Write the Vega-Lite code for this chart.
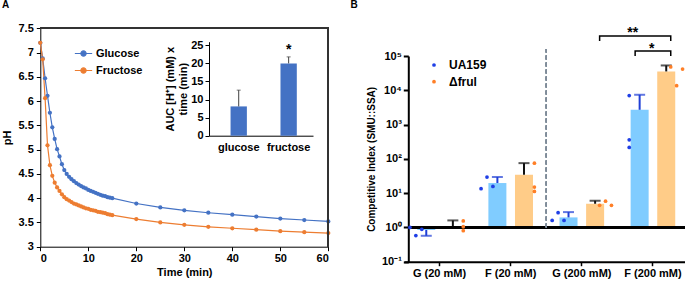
{
  "$schema": "https://vega.github.io/schema/vega-lite/v6.json",
  "width": 685,
  "height": 282,
  "autosize": "none",
  "padding": 0,
  "config": {
    "font": "Liberation Sans",
    "view": {"stroke": null},
    "axis": {"grid": false, "labelFontWeight": "bold", "titleFontWeight": "bold", "labelFontSize": 11, "titleFontSize": 11, "labelColor": "#000", "titleColor": "#000", "domainColor": "#000", "tickColor": "#000", "labelOverlap": false},
    "legend": {"labelFontWeight": "bold", "labelColor": "#000"}
  },
  "resolve": {"scale": {"x": "independent", "y": "independent", "color": "independent", "xOffset": "independent"}},
  "layer": [
    {
      "data": {"values": [
        {"s":"Glucose","t":0,"pH":7.2},{"s":"Glucose","t":0.5,"pH":6.88},{"s":"Glucose","t":1,"pH":6.47},{"s":"Glucose","t":1.5,"pH":6.11},{"s":"Glucose","t":2,"pH":5.76},{"s":"Glucose","t":2.5,"pH":5.46},{"s":"Glucose","t":3,"pH":5.22},{"s":"Glucose","t":3.5,"pH":5.01},{"s":"Glucose","t":4,"pH":4.86},{"s":"Glucose","t":4.5,"pH":4.7},{"s":"Glucose","t":5,"pH":4.58},{"s":"Glucose","t":5.5,"pH":4.5},{"s":"Glucose","t":6,"pH":4.44},{"s":"Glucose","t":6.5,"pH":4.39},{"s":"Glucose","t":7,"pH":4.35},{"s":"Glucose","t":7.5,"pH":4.31},{"s":"Glucose","t":8,"pH":4.28},{"s":"Glucose","t":8.5,"pH":4.25},{"s":"Glucose","t":9,"pH":4.22},{"s":"Glucose","t":9.5,"pH":4.2},{"s":"Glucose","t":10,"pH":4.17},{"s":"Glucose","t":10.5,"pH":4.15},{"s":"Glucose","t":11,"pH":4.13},{"s":"Glucose","t":11.5,"pH":4.11},{"s":"Glucose","t":12,"pH":4.09},{"s":"Glucose","t":12.5,"pH":4.07},{"s":"Glucose","t":13,"pH":4.05},{"s":"Glucose","t":13.5,"pH":4.04},{"s":"Glucose","t":14,"pH":4.02},{"s":"Glucose","t":14.5,"pH":4.01},{"s":"Glucose","t":15,"pH":4.0},{"s":"Glucose","t":20,"pH":3.89},{"s":"Glucose","t":25,"pH":3.81},{"s":"Glucose","t":30,"pH":3.75},{"s":"Glucose","t":35,"pH":3.7},{"s":"Glucose","t":40,"pH":3.66},{"s":"Glucose","t":45,"pH":3.62},{"s":"Glucose","t":50,"pH":3.58},{"s":"Glucose","t":55,"pH":3.55},{"s":"Glucose","t":60,"pH":3.52},
        {"s":"Fructose","t":0,"pH":7.2},{"s":"Fructose","t":0.5,"pH":6.86},{"s":"Fructose","t":1,"pH":6.06},{"s":"Fructose","t":1.5,"pH":5.09},{"s":"Fructose","t":2,"pH":4.68},{"s":"Fructose","t":2.5,"pH":4.46},{"s":"Fructose","t":3,"pH":4.32},{"s":"Fructose","t":3.5,"pH":4.22},{"s":"Fructose","t":4,"pH":4.15},{"s":"Fructose","t":4.5,"pH":4.08},{"s":"Fructose","t":5,"pH":4.02},{"s":"Fructose","t":5.5,"pH":3.98},{"s":"Fructose","t":6,"pH":3.95},{"s":"Fructose","t":6.5,"pH":3.92},{"s":"Fructose","t":7,"pH":3.89},{"s":"Fructose","t":7.5,"pH":3.87},{"s":"Fructose","t":8,"pH":3.85},{"s":"Fructose","t":8.5,"pH":3.83},{"s":"Fructose","t":9,"pH":3.81},{"s":"Fructose","t":9.5,"pH":3.79},{"s":"Fructose","t":10,"pH":3.78},{"s":"Fructose","t":10.5,"pH":3.76},{"s":"Fructose","t":11,"pH":3.75},{"s":"Fructose","t":11.5,"pH":3.74},{"s":"Fructose","t":12,"pH":3.72},{"s":"Fructose","t":12.5,"pH":3.71},{"s":"Fructose","t":13,"pH":3.7},{"s":"Fructose","t":13.5,"pH":3.69},{"s":"Fructose","t":14,"pH":3.67},{"s":"Fructose","t":14.5,"pH":3.66},{"s":"Fructose","t":15,"pH":3.65},{"s":"Fructose","t":20,"pH":3.57},{"s":"Fructose","t":25,"pH":3.5},{"s":"Fructose","t":30,"pH":3.45},{"s":"Fructose","t":35,"pH":3.41},{"s":"Fructose","t":40,"pH":3.38},{"s":"Fructose","t":45,"pH":3.35},{"s":"Fructose","t":50,"pH":3.32},{"s":"Fructose","t":55,"pH":3.3},{"s":"Fructose","t":60,"pH":3.28}
      ]},
      "layer": [
        {
          "mark": {"type": "line", "strokeWidth": 1.2},
          "encoding": {
            "x": {"field": "t", "type": "quantitative", "scale": {"domain": [0, 60], "range": [40.3, 328.3]},
                  "axis": {"orient": "bottom", "offset": -35.3, "values": [0,10,20,30,40,50,60], "tickCount": 7, "title": "Time (min)", "tickSize": 4, "labelPadding": 2, "titlePadding": 3}},
            "y": {"field": "pH", "type": "quantitative", "scale": {"domain": [3, 7.5], "range": [246.7, 28.3], "zero": false, "nice": false},
                  "axis": {"orient": "left", "offset": -40.3, "values": [3,3.5,4,4.5,5,5.5,6,6.5,7,7.5], "tickCount": 10, "labelExpr": "format(datum.value, '~g')", "labelOverlap": false, "title": "pH", "tickSize": 4, "labelPadding": 3, "titlePadding": 6}},
            "color": {"field": "s", "type": "nominal", "scale": {"domain": ["Glucose", "Fructose"], "range": ["#4472C4", "#ED7D31"]},
                      "legend": {"orient": "none", "legendX": 74, "legendY": 44, "title": null, "symbolType": "M-1,0H1M-0.3,0A0.3,0.3,0,1,1,0.3,0A0.3,0.3,0,1,1,-0.3,0Z", "symbolSize": 300, "symbolStrokeWidth": 1.2, "labelFontSize": 11, "labelOffset": 3, "rowPadding": 2}}
          }
        },
        {
          "mark": {"type": "circle", "size": 18, "opacity": 1},
          "encoding": {
            "x": {"field": "t", "type": "quantitative"},
            "y": {"field": "pH", "type": "quantitative"},
            "color": {"field": "s", "type": "nominal"}
          }
        },
        {
          "mark": {"type": "rule", "color": "#333", "strokeWidth": 1},
          "encoding": {"x": {"datum": 0, "type": "quantitative"}, "x2": {"datum": 60}, "y": {"datum": 7.5, "type": "quantitative"}}
        },
        {
          "mark": {"type": "rule", "color": "#333", "strokeWidth": 1},
          "encoding": {"x": {"datum": 60, "type": "quantitative"}, "y": {"datum": 3, "type": "quantitative"}, "y2": {"datum": 7.5}}
        },
        {
          "data": {"values": [{"lab": "A", "t": -8, "pH": 7.91}, {"lab": "B", "t": 64.6, "pH": 7.91}]},
          "mark": {"type": "text", "align": "left", "baseline": "alphabetic", "fontWeight": "bold", "fontSize": 10, "color": "#000"},
          "encoding": {"x": {"field": "t", "type": "quantitative"}, "y": {"field": "pH", "type": "quantitative"}, "text": {"field": "lab"}}
        }
      ]
    },
    {
      "data": {"values": [
        {"sugar": "glucose", "auc": 8.1, "hi": 12.6},
        {"sugar": "fructose", "auc": 20.0, "hi": 21.8}
      ]},
      "layer": [
        {
          "mark": {"type": "bar", "color": "#4472C4"},
          "encoding": {
            "x": {"field": "sugar", "type": "nominal",
                  "scale": {"domain": ["glucose", "fructose"], "range": [209, 313], "paddingInner": 0.673, "paddingOuter": 0.378, "align": 0.571},
                  "axis": {"orient": "bottom", "offset": -146.3, "title": null, "ticks": false, "tickSize": 0, "labelAngle": 0, "labelPadding": 6, "labelFontSize": 11}},
            "y": {"field": "auc", "type": "quantitative", "scale": {"domain": [0, 25], "range": [135.7, 41.7]},
                  "axis": {"orient": "left", "offset": -209, "values": [0,5,10,15,20,25], "tickCount": 6, "title": ["AUC [H⁺] (mM) x", "time (min)"], "tickSize": 4, "labelPadding": 2, "titlePadding": 2, "titleLineHeight": 13}}
          }
        },
        {
          "mark": {"type": "rule", "color": "#404040", "strokeWidth": 1},
          "encoding": {"x": {"field": "sugar", "type": "nominal"}, "y": {"field": "auc", "type": "quantitative"}, "y2": {"field": "hi"}}
        },
        {
          "mark": {"type": "tick", "color": "#404040", "thickness": 1, "size": 4},
          "encoding": {"x": {"field": "sugar", "type": "nominal"}, "y": {"field": "hi", "type": "quantitative"}}
        },
        {
          "data": {"values": [{"sugar": "fructose", "v": 22.6, "lab": "*"}]},
          "mark": {"type": "text", "fontSize": 14, "fontWeight": "bold", "baseline": "alphabetic", "color": "#000"},
          "encoding": {"x": {"field": "sugar", "type": "nominal"}, "y": {"field": "v", "type": "quantitative"}, "text": {"field": "lab"}}
        }
      ]
    },
    {
      "data": {"values": [
        {"cond": "G (20 mM)", "strain": "UA159", "mean": 0.84, "cap": 0.57},
        {"cond": "G (20 mM)", "strain": "Δfrul", "mean": 1.1, "cap": 1.6},
        {"cond": "F (20 mM)", "strain": "UA159", "mean": 19.7, "cap": 29.5},
        {"cond": "F (20 mM)", "strain": "Δfrul", "mean": 34.4, "cap": 75},
        {"cond": "G (200 mM)", "strain": "UA159", "mean": 1.96, "cap": 2.8},
        {"cond": "G (200 mM)", "strain": "Δfrul", "mean": 4.9, "cap": 6.0},
        {"cond": "F (200 mM)", "strain": "UA159", "mean": 2700, "cap": 7400},
        {"cond": "F (200 mM)", "strain": "Δfrul", "mean": 35500, "cap": 53000}
      ]},
      "resolve": {"scale": {"color": "independent", "xOffset": "independent"}},
      "layer": [
        {
          "mark": {"type": "bar"},
          "encoding": {
            "x": {"field": "cond", "type": "nominal",
                  "scale": {"domain": ["G (20 mM)", "F (20 mM)", "G (200 mM)", "F (200 mM)"], "range": [404, 688.5], "paddingInner": 0, "paddingOuter": 0},
                  "axis": {"orient": "bottom", "offset": -20.3, "title": null, "labelAngle": 0, "tickSize": 4, "tickWidth": 1.5, "domainWidth": 2, "labelPadding": 2, "labelFontSize": 11}},
            "xOffset": {"field": "strain", "type": "nominal", "scale": {"domain": ["UA159", "Δfrul"], "paddingInner": 0.323, "paddingOuter": 0.4985}},
            "y": {"field": "mean", "type": "quantitative", "scale": {"type": "log", "domain": [0.1, 100000], "range": [261.7, 56]},
                  "axis": {"orient": "left", "offset": -408.3, "values": [0.1, 1, 10, 100, 1000, 10000, 100000], "tickCount": 7,
                           "labelExpr": "datum.value < 0.5 ? '10⁻¹' : datum.value < 5 ? '10⁰' : datum.value < 50 ? '10¹' : datum.value < 500 ? '10²' : datum.value < 5000 ? '10³' : datum.value < 50000 ? '10⁴' : '10⁵'",
                           "title": "Competitive Index (SMU::SSA)", "titleFontSize": 10, "tickSize": 5, "tickWidth": 2, "domainWidth": 2, "labelPadding": 2, "titlePadding": 5}},
            "y2": {"datum": 1},
            "color": {"field": "strain", "type": "nominal", "scale": {"domain": ["UA159", "Δfrul"], "range": ["#80CCFF", "#FFCC88"]}, "legend": null}
          }
        },
        {
          "mark": {"type": "rule", "strokeWidth": 2},
          "encoding": {
            "x": {"field": "cond", "type": "nominal"},
            "xOffset": {"field": "strain", "type": "nominal", "scale": {"domain": ["UA159", "Δfrul"], "paddingInner": 0.323, "paddingOuter": 0.4985}},
            "y": {"field": "mean", "type": "quantitative"},
            "y2": {"field": "cap"},
            "color": {"field": "strain", "type": "nominal", "scale": {"domain": ["UA159", "Δfrul"], "range": ["#1F3FD6", "#111111"]}, "legend": null}
          }
        },
        {
          "mark": {"type": "tick", "thickness": 2, "size": 11},
          "encoding": {
            "x": {"field": "cond", "type": "nominal"},
            "xOffset": {"field": "strain", "type": "nominal", "scale": {"domain": ["UA159", "Δfrul"], "paddingInner": 0.323, "paddingOuter": 0.4985}},
            "y": {"field": "cap", "type": "quantitative"},
            "color": {"field": "strain", "type": "nominal", "scale": {"domain": ["UA159", "Δfrul"], "range": ["#1F3FD6", "#111111"]}, "legend": null}
          }
        },
        {
          "mark": {"type": "rule", "color": "#000", "strokeWidth": 2},
          "encoding": {
            "x": {"datum": "G (20 mM)", "type": "nominal", "bandPosition": 0.06},
            "x2": {"datum": "F (200 mM)", "bandPosition": 1},
            "y": {"datum": 1, "type": "quantitative"}
          }
        },
        {
          "mark": {"type": "rule", "color": "#7F8C9A", "strokeWidth": 1.2, "strokeDash": [4, 3]},
          "encoding": {
            "x": {"datum": "G (200 mM)", "type": "nominal", "bandPosition": 0},
            "y": {"datum": 1, "type": "quantitative"},
            "y2": {"datum": 160000}
          }
        },
        {
          "data": {"values": [
            {"cond": "G (20 mM)", "strain": "UA159", "rep": "UA159-1", "v": 1.0},
            {"cond": "G (20 mM)", "strain": "UA159", "rep": "UA159-3", "v": 0.88},
            {"cond": "G (20 mM)", "strain": "UA159", "rep": "UA159-2", "v": 0.58},
            {"cond": "G (20 mM)", "strain": "Δfrul", "rep": "Δfrul-2", "v": 1.55},
            {"cond": "G (20 mM)", "strain": "Δfrul", "rep": "Δfrul-2", "v": 1.05},
            {"cond": "G (20 mM)", "strain": "Δfrul", "rep": "Δfrul-2", "v": 0.8},
            {"cond": "F (20 mM)", "strain": "UA159", "rep": "UA159-1", "v": 13.5},
            {"cond": "F (20 mM)", "strain": "UA159", "rep": "UA159-3", "v": 15.7},
            {"cond": "F (20 mM)", "strain": "UA159", "rep": "UA159-2", "v": 29.5},
            {"cond": "F (20 mM)", "strain": "Δfrul", "rep": "Δfrul-2", "v": 75},
            {"cond": "F (20 mM)", "strain": "Δfrul", "rep": "Δfrul-2", "v": 15},
            {"cond": "F (20 mM)", "strain": "Δfrul", "rep": "Δfrul-2", "v": 11.2},
            {"cond": "G (200 mM)", "strain": "UA159", "rep": "UA159-1", "v": 1.6},
            {"cond": "G (200 mM)", "strain": "UA159", "rep": "UA159-3", "v": 1.6},
            {"cond": "G (200 mM)", "strain": "UA159", "rep": "UA159-2", "v": 2.7},
            {"cond": "G (200 mM)", "strain": "Δfrul", "rep": "Δfrul-1", "v": 4.4},
            {"cond": "G (200 mM)", "strain": "Δfrul", "rep": "Δfrul-3", "v": 4.4},
            {"cond": "G (200 mM)", "strain": "Δfrul", "rep": "Δfrul-2", "v": 5.8},
            {"cond": "F (200 mM)", "strain": "UA159", "rep": "UA159-2", "v": 7000},
            {"cond": "F (200 mM)", "strain": "UA159", "rep": "UA159-2", "v": 360},
            {"cond": "F (200 mM)", "strain": "UA159", "rep": "UA159-2", "v": 215},
            {"cond": "F (200 mM)", "strain": "Δfrul", "rep": "Δfrul-1", "v": 47800},
            {"cond": "F (200 mM)", "strain": "Δfrul", "rep": "Δfrul-3", "v": 41700},
            {"cond": "F (200 mM)", "strain": "Δfrul", "rep": "Δfrul-2", "v": 13600}
          ]},
          "mark": {"type": "circle", "size": 14, "opacity": 1},
          "encoding": {
            "x": {"field": "cond", "type": "nominal"},
            "xOffset": {"field": "rep", "type": "nominal", "scale": {"type": "point", "domain": ["UA159-1", "UA159-2", "UA159-3", "g1", "g2", "g3", "g4", "g5", "Δfrul-1", "Δfrul-2", "Δfrul-3"], "padding": 5.7}},
            "y": {"field": "v", "type": "quantitative"},
            "color": {"field": "strain", "type": "nominal", "scale": {"domain": ["UA159", "Δfrul"], "range": ["#1F3FE6", "#FF7F27"]},
                      "legend": {"orient": "none", "legendX": 428, "legendY": 59, "title": null, "symbolType": "circle", "symbolSize": 14, "labelFontSize": 12, "labelOffset": 9, "rowPadding": 4.7,
                                 "encode": {"labels": {"fontStyle": {"condition": {"test": "datum.label == 'Δfrul'", "value": "italic"}, "value": "normal"}}}}}
          }
        },
        {
          "data": {"values": [
            {"b": "k2", "i": 1, "cond": "G (200 mM)", "strain": "Δfrul", "v": 274000},
            {"b": "k2", "i": 2, "cond": "G (200 mM)", "strain": "Δfrul", "v": 384000},
            {"b": "k2", "i": 3, "cond": "F (200 mM)", "strain": "Δfrul", "v": 384000},
            {"b": "k2", "i": 4, "cond": "F (200 mM)", "strain": "Δfrul", "v": 274000},
            {"b": "k1", "i": 1, "cond": "F (200 mM)", "strain": "UA159", "v": 100000},
            {"b": "k1", "i": 2, "cond": "F (200 mM)", "strain": "UA159", "v": 140000},
            {"b": "k1", "i": 3, "cond": "F (200 mM)", "strain": "Δfrul", "v": 140000},
            {"b": "k1", "i": 4, "cond": "F (200 mM)", "strain": "Δfrul", "v": 100000}
          ]},
          "mark": {"type": "line", "color": "#000", "strokeWidth": 1.5},
          "encoding": {
            "x": {"field": "cond", "type": "nominal"},
            "xOffset": {"field": "strain", "type": "nominal", "scale": {"domain": ["UA159", "Δfrul"], "paddingInner": 0.323, "paddingOuter": 0.4985}},
            "y": {"field": "v", "type": "quantitative"},
            "detail": {"field": "b"},
            "order": {"field": "i", "type": "quantitative"}
          }
        },
        {
          "data": {"values": [{"cond": "F (200 mM)", "v": 347000, "lab": "**"}]},
          "mark": {"type": "text", "fontSize": 14, "fontWeight": "bold", "baseline": "alphabetic", "color": "#000"},
          "encoding": {"x": {"field": "cond", "type": "nominal", "bandPosition": 0.215}, "y": {"field": "v", "type": "quantitative"}, "text": {"field": "lab"}}
        },
        {
          "data": {"values": [{"cond": "F (200 mM)", "v": 118600, "lab": "*"}]},
          "mark": {"type": "text", "fontSize": 14, "fontWeight": "bold", "baseline": "alphabetic", "color": "#000"},
          "encoding": {"x": {"field": "cond", "type": "nominal", "bandPosition": 0.482}, "y": {"field": "v", "type": "quantitative"}, "text": {"field": "lab"}}
        }
      ]
    }
  ]
}
